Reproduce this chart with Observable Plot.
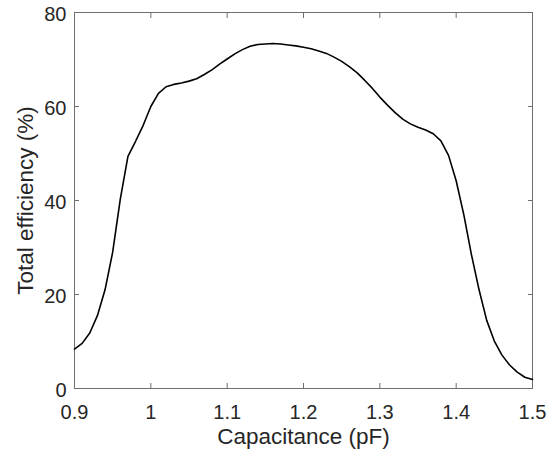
<!DOCTYPE html>
<html>
<head>
<meta charset="utf-8">
<script src="https://cdn.jsdelivr.net/npm/d3@7"></script>
<script src="https://cdn.jsdelivr.net/npm/@observablehq/plot@0.6"></script>
<style>
  html, body { margin: 0; padding: 0; background: #fff; }
  #chart svg { display: block; }
</style>
</head>
<body>
<div id="chart"></div>
<script>
const capacitance = [
  0.90, 0.91, 0.92, 0.93, 0.94, 0.95, 0.96, 0.97, 0.98, 0.99,
  1.00, 1.01, 1.02, 1.03, 1.04, 1.05, 1.06, 1.07, 1.08, 1.09,
  1.10, 1.11, 1.12, 1.13, 1.14, 1.15, 1.16, 1.17, 1.18, 1.19,
  1.20, 1.21, 1.22, 1.23, 1.24, 1.25, 1.26, 1.27, 1.28, 1.29,
  1.30, 1.31, 1.32, 1.33, 1.34, 1.35, 1.36, 1.37, 1.38, 1.39,
  1.40, 1.41, 1.42, 1.43, 1.44, 1.45, 1.46, 1.47, 1.48, 1.49, 1.50
];
const efficiency = [
  8.4, 9.6, 11.8, 15.5, 21.0, 29.0, 40.3, 49.4, 52.6, 56.0,
  60.0, 62.8, 64.2, 64.7, 65.0, 65.4, 65.9, 66.8, 67.8, 69.0,
  70.1, 71.2, 72.1, 72.8, 73.2, 73.3, 73.4, 73.3, 73.1, 72.9,
  72.6, 72.3, 71.8, 71.3, 70.5, 69.6, 68.5, 67.2, 65.6, 63.9,
  62.0, 60.3, 58.7, 57.3, 56.3, 55.6, 55.0, 54.2, 52.7, 49.6,
  44.2, 37.0, 28.5, 21.0, 14.5, 10.1, 7.1, 5.0, 3.5, 2.4, 1.9
];
const xTicks = [0.9, 1.0, 1.1, 1.2, 1.3, 1.4, 1.5];
const yTicks = [0, 20, 40, 60, 80];
const xLabel = "Capacitance (pF)";
const yLabel = "Total efficiency (%)";

const data = capacitance.map((c, i) => ({c, e: efficiency[i]}));
const fmt = d => String(+d.toFixed(1));
const axisColor = "#262626";
const frameColor = "#6e6e6e";

const chart = Plot.plot({
  width: 560,
  height: 457,
  marginLeft: 74,
  marginRight: 28,
  marginTop: 12,
  marginBottom: 69,
  style: {fontFamily: "'Liberation Sans', Arial, Helvetica, sans-serif", fontSize: "20px", color: axisColor, background: "#fff"},
  x: {domain: [0.9, 1.5]},
  y: {domain: [0, 80]},
  marks: [
    // tick labels
    Plot.axisX(xTicks, {anchor: "bottom", tickSize: 0, tickPadding: 16, tickFormat: fmt, label: null, fontSize: 20}),
    Plot.axisY(yTicks, {anchor: "left", tickSize: 0, tickPadding: 8, dy: 2, label: null, fontSize: 20}),
    // inward ticks on all four sides
    Plot.axisX(xTicks, {anchor: "bottom", tickSize: 5, dy: -5, tickFormat: () => "", label: null, stroke: frameColor}),
    Plot.axisX(xTicks, {anchor: "top", tickSize: 5, dy: 5, tickFormat: () => "", label: null, stroke: frameColor}),
    Plot.axisY(yTicks, {anchor: "left", tickSize: 5, dx: 5, tickFormat: () => "", label: null, stroke: frameColor}),
    Plot.axisY(yTicks, {anchor: "right", tickSize: 5, dx: -5, tickFormat: () => "", label: null, stroke: frameColor}),
    Plot.frame({stroke: frameColor, strokeWidth: 1}),
    Plot.line(data, {x: "c", y: "e", stroke: "#000", strokeWidth: 1.6}),
    Plot.text([xLabel], {text: d => d, frameAnchor: "bottom", dy: 55, fontSize: 22.5, fill: axisColor}),
    Plot.text([yLabel], {text: d => d, frameAnchor: "left", textAnchor: "middle", dx: -49, rotate: -90, fontSize: 22.5, fill: axisColor})
  ]
});
document.getElementById("chart").appendChild(chart);
</script>
</body>
</html>
